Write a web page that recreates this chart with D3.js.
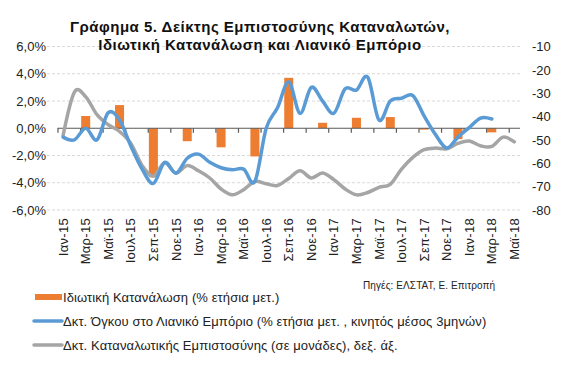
<!DOCTYPE html>
<html>
<head>
<meta charset="utf-8">
<script src="https://cdn.jsdelivr.net/npm/d3@7"></script>
<style>
  html, body { margin: 0; padding: 0; background: #fff; }
  svg { display: block; font-family: "Liberation Sans", Arial, sans-serif; }
</style>
</head>
<body>
<svg id="chart" width="565" height="373"></svg>
<script>
// ---------- DATA ----------
const months = [
  "Ιαν-15","Φεβ-15","Μαρ-15","Απρ-15","Μαϊ-15","Ιουν-15","Ιουλ-15","Αυγ-15","Σεπ-15","Οκτ-15","Νοε-15","Δεκ-15",
  "Ιαν-16","Φεβ-16","Μαρ-16","Απρ-16","Μαϊ-16","Ιουν-16","Ιουλ-16","Αυγ-16","Σεπ-16","Οκτ-16","Νοε-16","Δεκ-16",
  "Ιαν-17","Φεβ-17","Μαρ-17","Απρ-17","Μαϊ-17","Ιουν-17","Ιουλ-17","Αυγ-17","Σεπ-17","Οκτ-17","Νοε-17","Δεκ-17",
  "Ιαν-18","Φεβ-18","Μαρ-18","Απρ-18","Μαϊ-18"
];
// Private consumption (% y/y), quarterly, placed at quarter-end month
const consumption = [
  null, null, 0.9, null, null, 1.7, null, null, -3.6, null, null, -0.95,
  null, null, -1.4, null, null, -2.07, null, null, 3.7, null, null, 0.4,
  null, null, 0.77, null, null, 0.82, null, null, -0.1, null, null, -0.8,
  null, null, -0.3, null, null
];
// Retail trade volume index (% y/y, 3-month moving average)
const retail = [
  -0.65, -0.85, 0.0, -0.85, 1.15, 0.6, -1.3, -3.0, -4.05, -2.5, -3.3, -2.2,
  -1.9, -2.5, -2.9, -3.05, -3.0, -3.9, 0.0, 1.5, 3.4, 1.1, 3.0, 2.0,
  1.1, 2.9, 2.8, 3.75, 0.6, 2.0, 2.2, 2.4, 0.9, -0.45, -1.45, -0.65,
  0.05, 0.75, 0.68, null, null
];
// Consumer confidence index (points, right axis)
const confidence = [
  -48, -29.5, -31.5, -39.2, -43.5, -46.4, -51.5, -61, -65.5, -59.8, -64.2, -61,
  -63.2, -66.3, -71, -73.5, -71.3, -67.8, -68.8, -69.5, -66.5, -63.2, -66.3, -64.2,
  -67, -71, -73.5, -72.5, -70.3, -69, -62.5, -57.5, -54.2, -53.5, -53.8, -51.5,
  -50.5, -52.5, -52.8, -48.8, -50.8
];
const leftTicks = [-6, -4, -2, 0, 2, 4, 6];
const rightTicks = [-80, -70, -60, -50, -40, -30, -20, -10];
const titleLines = ["Γράφημα 5. Δείκτης Εμπιστοσύνης Καταναλωτών,", "Ιδιωτική Κατανάλωση και Λιανικό Εμπόριο"];
const legendLabels = [
  "Ιδιωτική Κατανάλωση (% ετήσια μετ.)",
  "Δκτ. Όγκου στο Λιανικό Εμπόριο (% ετήσια μετ. , κινητός μέσος 3μηνών)",
  "Δκτ. Καταναλωτικής Εμπιστοσύνης (σε μονάδες), δεξ. άξ."
];
const sourceText = "Πηγές: ΕΛΣΤΑΤ, Ε. Επιτροπή";

// ---------- LAYOUT ----------
const colors = { bar: "#ED7D31", retail: "#5B9BD5", conf: "#A5A5A5" };
const plot = { left: 57.5, right: 520, top: 46.5, bottom: 210 };

const svg = d3.select("#chart");

const x = d3.scaleBand().domain(months).range([plot.left, plot.right])
  .paddingInner(0.2).paddingOuter(0.1);
const xc = d => x(d) + x.bandwidth() / 2;
const yL = d3.scaleLinear().domain([-6, 6]).range([plot.bottom, plot.top]);
const yR = d3.scaleLinear().domain([-80, -10]).range([plot.bottom, plot.top]);

// gridlines
svg.append("g").selectAll("line").data(leftTicks.filter(t => t !== 0)).join("line")
  .attr("x1", 47).attr("x2", 521.5)
  .attr("y1", d => yL(d)).attr("y2", d => yL(d))
  .attr("stroke", "#d9d9d9").attr("stroke-width", 1).attr("stroke-dasharray", "3,2");

// left axis
const gL = svg.append("g").attr("transform", `translate(${46},0)`)
  .call(d3.axisLeft(yL).tickValues(leftTicks).tickSize(0).tickPadding(0)
    .tickFormat(d => d3.format(".1f")(d).replace(".", ",").replace("−", "-") + "%"));
gL.select(".domain").remove();
gL.selectAll("text").attr("font-size", "13px").attr("fill", "#222")
  .style("font-family", "'Liberation Sans', Arial, sans-serif");

// right axis
const gR = svg.append("g").attr("transform", `translate(${532},0)`)
  .call(d3.axisRight(yR).tickValues(rightTicks).tickSize(0).tickPadding(0)
    .tickFormat(d => String(d)));
gR.select(".domain").remove();
gR.selectAll("text").attr("font-size", "13px").attr("fill", "#222")
  .style("font-family", "'Liberation Sans', Arial, sans-serif");

// bars
const barData = months.map((m, i) => ({ m, v: consumption[i] })).filter(d => d.v !== null);
svg.append("g").selectAll("rect").data(barData).join("rect")
  .attr("x", d => x(d.m)).attr("width", x.bandwidth())
  .attr("y", d => Math.min(yL(d.v), yL(0)))
  .attr("height", d => Math.abs(yL(d.v) - yL(0)))
  .attr("fill", colors.bar);

// category axis at zero (tick marks every 2 categories on boundaries)
const xb = d3.scaleLinear().domain([0, months.length]).range([plot.left, plot.right]);
const gX = svg.append("g").attr("transform", `translate(0,${yL(0)})`)
  .call(d3.axisBottom(xb).tickValues(d3.range(0, months.length, 2)).tickSize(4.5).tickFormat(""));
gX.select(".domain").attr("stroke", "#595959").attr("stroke-width", 1.2)
  .attr("d", `M${plot.left},0H${plot.right}`);
gX.selectAll(".tick line").attr("stroke", "#595959").attr("stroke-width", 1.2);

// lines
const curve = d3.curveCardinal.tension(0);
const retailLine = d3.line().defined(d => d.v !== null)
  .x(d => xc(d.m)).y(d => yL(d.v)).curve(curve);
const confLine = d3.line().defined(d => d.v !== null)
  .x(d => xc(d.m)).y(d => yR(d.v)).curve(curve);

svg.append("path").datum(months.map((m, i) => ({ m, v: confidence[i] })))
  .attr("d", confLine).attr("fill", "none").attr("stroke", colors.conf)
  .attr("stroke-width", 3.5).attr("stroke-linejoin", "round").attr("stroke-linecap", "round");
svg.append("path").datum(months.map((m, i) => ({ m, v: retail[i] })).filter(d => d.v !== null))
  .attr("d", retailLine).attr("fill", "none").attr("stroke", colors.retail)
  .attr("stroke-width", 3.5).attr("stroke-linejoin", "round").attr("stroke-linecap", "round");

// x labels (every second month)
const gXL = svg.append("g").attr("transform", `translate(0,${plot.bottom + 8})`)
  .call(d3.axisBottom(x).tickValues(months.filter((m, i) => i % 2 === 0)).tickSize(0).tickPadding(0));
gXL.select(".domain").remove();
gXL.selectAll("text")
  .attr("transform", "rotate(-90)")
  .attr("text-anchor", "end")
  .attr("x", 0).attr("y", 0).attr("dy", "0.35em")
  .attr("font-size", "13px").attr("fill", "#222")
  .attr("letter-spacing", "0.3px")
  .style("font-family", "'Liberation Sans', Arial, sans-serif");

// title
svg.append("g").selectAll("text").data(titleLines).join("text")
  .attr("x", 260).attr("y", (d, i) => 31.5 + i * 18.5)
  .attr("text-anchor", "middle")
  .attr("font-size", "15px").attr("font-weight", "bold").attr("fill", "#111")
  .attr("letter-spacing", "0.5px")
  .text(d => d);

// source
svg.append("text").attr("x", 363).attr("y", 289)
  .attr("font-size", "10px").attr("fill", "#222").attr("letter-spacing", "0.1px").text(sourceText);

// legend
const legY = [297, 321, 345];
const leg = svg.append("g");
leg.append("rect").attr("x", 35).attr("y", legY[0] - 3).attr("width", 27).attr("height", 6).attr("fill", colors.bar);
leg.append("line").attr("x1", 34).attr("x2", 62).attr("y1", legY[1]).attr("y2", legY[1])
  .attr("stroke", colors.retail).attr("stroke-width", 3.5).attr("stroke-linecap", "round");
leg.append("line").attr("x1", 34).attr("x2", 62).attr("y1", legY[2]).attr("y2", legY[2])
  .attr("stroke", colors.conf).attr("stroke-width", 3.5).attr("stroke-linecap", "round");
leg.selectAll("text").data(legendLabels).join("text")
  .attr("x", 63).attr("y", (d, i) => legY[i]).attr("dy", "0.35em")
  .attr("font-size", "13px").attr("fill", "#222").attr("letter-spacing", "0.1px")
  .text(d => d);
</script>
</body>
</html>
